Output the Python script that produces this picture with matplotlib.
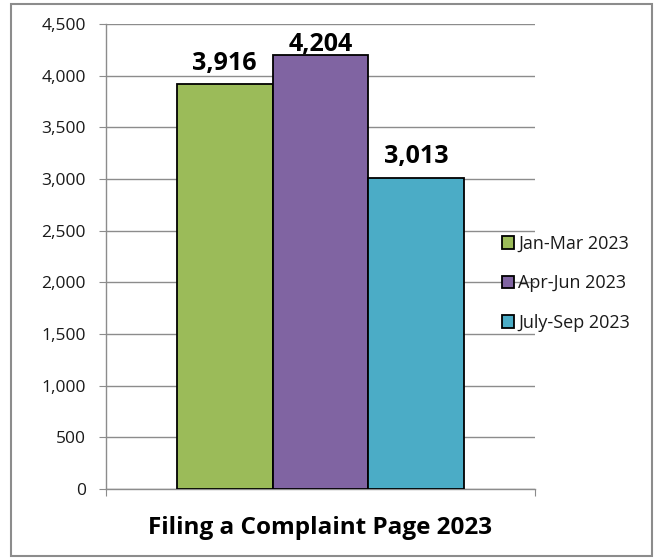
import matplotlib
matplotlib.use("Agg")
import matplotlib.pyplot as plt
from matplotlib.patches import Rectangle, Patch

series = ["Jan-Mar 2023", "Apr-Jun 2023", "July-Sep 2023"]
values = [3916, 4204, 3013]
colors = ["#9BBB59", "#8064A2", "#4BACC6"]
yticks = [0, 500, 1000, 1500, 2000, 2500, 3000, 3500, 4000, 4500]
title = "Filing a Complaint Page 2023"

plt.rcParams['font.family'] = ['Open Sans', 'DejaVu Sans']

W, H = 660, 560
fig = plt.figure(figsize=(W/100, H/100), dpi=100)
ax = fig.add_axes([106/W, 1-489/H, (535-106)/W, (489-24)/H])

bw = 0.2233
n = len(values)
for i, (s, v, c) in enumerate(zip(series, values, colors)):
    x = (i - (n-1)/2) * bw
    ax.bar(x, v, width=bw, color=c, edgecolor="black", linewidth=1.3, label=s, zorder=3)
    ax.text(x, min(v + 140, 4235), f"{v:,}", ha="center", va="baseline",
            fontsize=18, fontweight="bold", zorder=4)

ax.set_xlim(-0.5, 0.5)
ax.set_ylim(0, 4500)
ax.set_yticks(yticks)
ax.set_yticklabels([f"{t:,}" for t in yticks], fontsize=12.5, color="#1a1a1a")
ax.yaxis.grid(True, color="#8c8c8c", linewidth=1, zorder=0)
ax.set_axisbelow(True)
ax.set_xticks([-0.5, 0.5])
ax.set_xticklabels(["", ""])
ax.tick_params(axis="x", length=5, color="#8c8c8c", direction="out")
ax.tick_params(axis="y", length=5, color="#8c8c8c", direction="out", pad=9.5)
for sp in ["top", "right"]:
    ax.spines[sp].set_visible(False)
for sp in ["left", "bottom"]:
    ax.spines[sp].set_color("#8c8c8c")
    ax.spines[sp].set_linewidth(1)

handles = [Patch(facecolor=c, edgecolor="black", linewidth=1.3) for c in colors]
leg = fig.legend(handles, series, loc="upper left", bbox_to_anchor=(502/W, 1-235/H),
                 frameon=False, fontsize=13, handlelength=0.68, handleheight=0.68,
                 handletextpad=0.2, labelspacing=1.19, borderaxespad=0, borderpad=0)
for t in leg.get_texts():
    t.set_color("#1a1a1a")

fig.text(320.5/W, 1-534/H, title, ha="center", va="baseline", fontsize=17.5, fontweight="bold")

fig.patches.append(Rectangle((11/W, 1-556/H), (652-11)/W, (556-4)/H, transform=fig.transFigure,
                             fill=False, edgecolor="#8c8c8c", linewidth=1.5))

fig.savefig("out.png", dpi=100)
